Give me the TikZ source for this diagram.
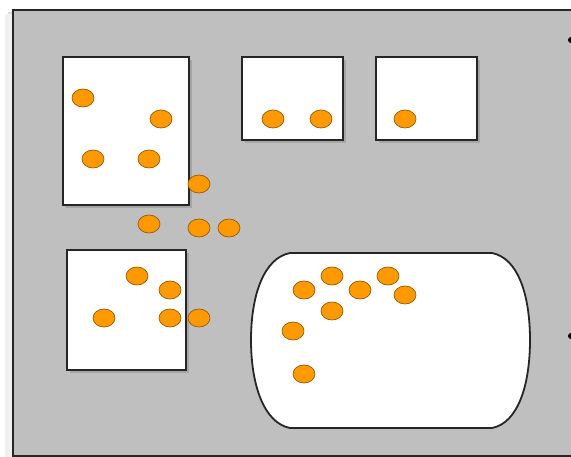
\documentclass[tikz,border=0pt]{standalone}
\usetikzlibrary{shapes.geometric}
\definecolor{dotfill}{RGB}{255,153,0}
\definecolor{dotline}{RGB}{150,90,0}
\begin{document}
\begin{tikzpicture}[x=1pt,y=-1pt,
  panel/.style={fill=white,draw=black!85,line width=1.8pt},
  shade/.style={fill=black!35,draw=none},
  dot/.style={ellipse,fill=dotfill,draw=dotline,line width=0.7pt,minimum width=22pt,minimum height=18pt,inner sep=0pt},
  handle/.style={circle,fill=black,inner sep=0pt,minimum size=6pt}]
\useasboundingbox (0,0) rectangle (571,457);
\clip (0,0) rectangle (571,457);
% outer shadow
\fill[black!12] (8,12) rectangle (580,462);
\fill[black!6] (5,14) rectangle (580,462);
% outer frame
\draw[fill=black!25,draw=black!85,line width=2pt] (13,10) rectangle (600,456);
% panels shadows
\fill[shade] (66,60) rectangle (192,208);
\fill[shade] (245,60) rectangle (346,143);
\fill[shade] (379,60) rectangle (480,143);
\fill[shade] (70,253) rectangle (189,373);
% panels
\draw[panel] (63,57) rectangle (189,205);
\draw[panel] (242,57) rectangle (343,140);
\draw[panel] (376,57) rectangle (477,140);
\draw[panel] (67,250) rectangle (186,370);
\draw[panel] (290,253) -- (492,253)
  .. controls (518,258) and (530,295) .. (530,340)
  .. controls (530,385) and (518,423) .. (492,428) -- (290,428)
  .. controls (264,423) and (251,385) .. (251,340)
  .. controls (251,295) and (264,258) .. (290,253) -- cycle;
% dots
\foreach \n/\x/\y in {d1/83/98, d2/161/119, d3/93/159, d4/149/159, d5/199/184, d6/149/224, d7/199/228, d8/229/228, d9/137/276, d10/170/290, d11/104/318, d12/170/318, d13/199/318, d14/273/119, d15/321/119, d16/405/119, d17/304/290, d18/332/276, d19/360/290, d20/388/276, d21/405/295, d22/332/311, d23/293/331, d24/304/374}
  \node[dot] (\n) at (\x,\y) {};
% handles
\node[handle] (h1) at (571,40) {};
\node[handle] (h2) at (571,336) {};
\end{tikzpicture}
\end{document}
